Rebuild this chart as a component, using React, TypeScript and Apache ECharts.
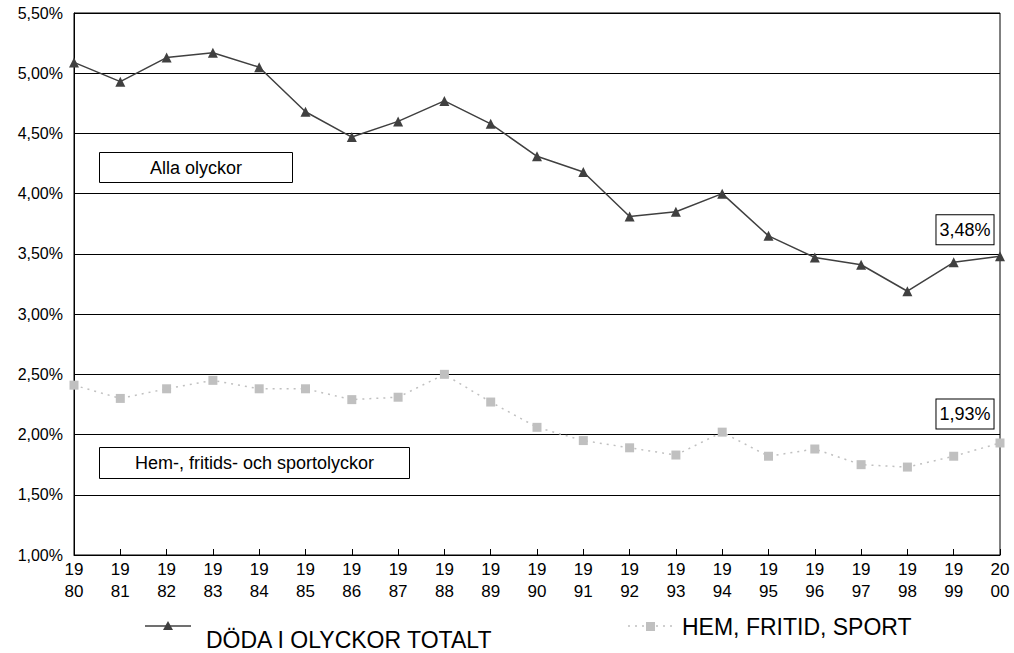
import React, { useEffect, useRef } from "react";
import * as echarts from "echarts";

// Years on the x axis
const years = [
  "1980", "1981", "1982", "1983", "1984", "1985", "1986", "1987", "1988", "1989", "1990",
  "1991", "1992", "1993", "1994", "1995", "1996", "1997", "1998", "1999", "2000",
];

// Share of deaths, all accidents (%)
const totalt = [
  5.09, 4.93, 5.13, 5.17, 5.05, 4.68, 4.47, 4.6, 4.77, 4.58, 4.31,
  4.18, 3.81, 3.85, 4.0, 3.65, 3.47, 3.41, 3.19, 3.43, 3.48,
];

// Share of deaths, home, leisure and sport accidents (%)
const hemFritidSport = [
  2.41, 2.3, 2.38, 2.45, 2.38, 2.38, 2.29, 2.31, 2.5, 2.27, 2.06,
  1.95, 1.89, 1.83, 2.02, 1.82, 1.88, 1.75, 1.73, 1.82, 1.93,
];

const seriesNames = ["DÖDA I OLYCKOR TOTALT", "HEM, FRITID, SPORT"];
const boxLabels = ["Alla olyckor", "Hem-, fritids- och sportolyckor"];

const FONT = "Liberation Sans, Arial, sans-serif";
const pct = (v: number) => v.toFixed(2).replace(".", ",") + "%";

const endLabel = (offsetY: number) => ({
  show: true,
  position: "top",
  offset: [-35, offsetY],
  formatter: (p: any) => pct(p.value),
  color: "#000",
  fontFamily: FONT,
  fontSize: 18,
  backgroundColor: "#fff",
  borderColor: "#000",
  borderWidth: 1,
  padding: [6, 3, 5, 3],
});

const withEndLabel = (values: number[], offsetY: number) =>
  values.map((v, i) => (i === values.length - 1 ? { value: v, label: endLabel(offsetY) } : v));

const boxText = (text: string, x: number, y: number, w: number, h: number) => ({
  type: "group",
  left: x,
  top: y,
  children: [
    {
      type: "rect",
      shape: { x: 0, y: 0, width: w, height: h },
      style: { fill: "#fff", stroke: "#000", lineWidth: 1 },
    },
    {
      type: "text",
      x: w / 2,
      y: h / 2,
      style: {
        text,
        fill: "#000",
        font: `18px ${FONT}`,
        textAlign: "center",
        textVerticalAlign: "middle",
      },
    },
  ],
});

export default function App() {
  const ref = useRef<HTMLDivElement>(null);

  useEffect(() => {
    if (!ref.current) return;
    const chart = echarts.init(ref.current, undefined, { renderer: "svg" });
    chart.setOption({
      animation: false,
      backgroundColor: "#fff",
      grid: {
        left: 74,
        right: 14,
        top: 13,
        bottom: 98,
        show: true,
        borderColor: "#000",
        borderWidth: 1,
        backgroundColor: "transparent",
      },
      xAxis: {
        type: "category",
        data: years,
        boundaryGap: false,
        axisLine: { lineStyle: { color: "#000", width: 1 } },
        axisTick: { inside: true, length: 6, lineStyle: { color: "#000" } },
        axisLabel: {
          interval: 0,
          color: "#000",
          fontFamily: FONT,
          fontSize: 17,
          lineHeight: 22,
          margin: 3,
          formatter: (v: string) => v.slice(0, 2) + "\n" + v.slice(2),
        },
      },
      yAxis: {
        type: "value",
        min: 1,
        max: 5.5,
        interval: 0.5,
        axisLine: { show: true, lineStyle: { color: "#000" } },
        axisTick: { show: false },
        splitLine: { lineStyle: { color: "#000", width: 1 } },
        axisLabel: {
          color: "#000",
          fontFamily: FONT,
          fontSize: 16,
          margin: 11,
          padding: [4, 0, 0, 0],
          formatter: (v: number) => pct(v),
        },
      },
      series: [
        {
          name: seriesNames[0],
          type: "line",
          data: withEndLabel(totalt, -2),
          symbol: "triangle",
          symbolSize: 10,
          itemStyle: { color: "#404040" },
          lineStyle: { color: "#404040", width: 1.5 },
          z: 3,
        },
        {
          name: seriesNames[1],
          type: "line",
          data: withEndLabel(hemFritidSport, -5),
          symbol: "rect",
          symbolSize: 9,
          itemStyle: { color: "#c0c0c0" },
          lineStyle: { color: "#c0c0c0", width: 1.5, type: [2, 5] },
          z: 2,
        },
      ],
      graphic: [
        boxText(boxLabels[0], 99, 152, 193, 30),
        boxText(boxLabels[1], 99, 447, 310, 31),
        // legend: total
        {
          type: "line",
          shape: { x1: 145, y1: 626, x2: 191, y2: 626 },
          style: { stroke: "#404040", lineWidth: 1.5 },
        },
        {
          type: "polygon",
          shape: { points: [[168, 621], [163, 630], [173, 630]] },
          style: { fill: "#404040" },
        },
        {
          type: "text",
          x: 206,
          y: 640,
          style: {
            text: seriesNames[0],
            fill: "#000",
            font: `23px ${FONT}`,
            textVerticalAlign: "middle",
          },
        },
        // legend: home, leisure, sport
        {
          type: "line",
          shape: { x1: 628, y1: 626, x2: 673, y2: 626 },
          style: { stroke: "#c0c0c0", lineWidth: 1.5, lineDash: [2, 5] },
        },
        {
          type: "rect",
          shape: { x: 646, y: 622, width: 9, height: 9 },
          style: { fill: "#c0c0c0" },
        },
        {
          type: "text",
          x: 682,
          y: 627,
          style: {
            text: seriesNames[1],
            fill: "#000",
            font: `23px ${FONT}`,
            textVerticalAlign: "middle",
          },
        },
      ],
    });
    return () => chart.dispose();
  }, []);

  return (
    <div
      ref={ref}
      style={{ position: "fixed", left: 0, top: 0, width: 1014, height: 653, overflow: "hidden" }}
    />
  );
}
